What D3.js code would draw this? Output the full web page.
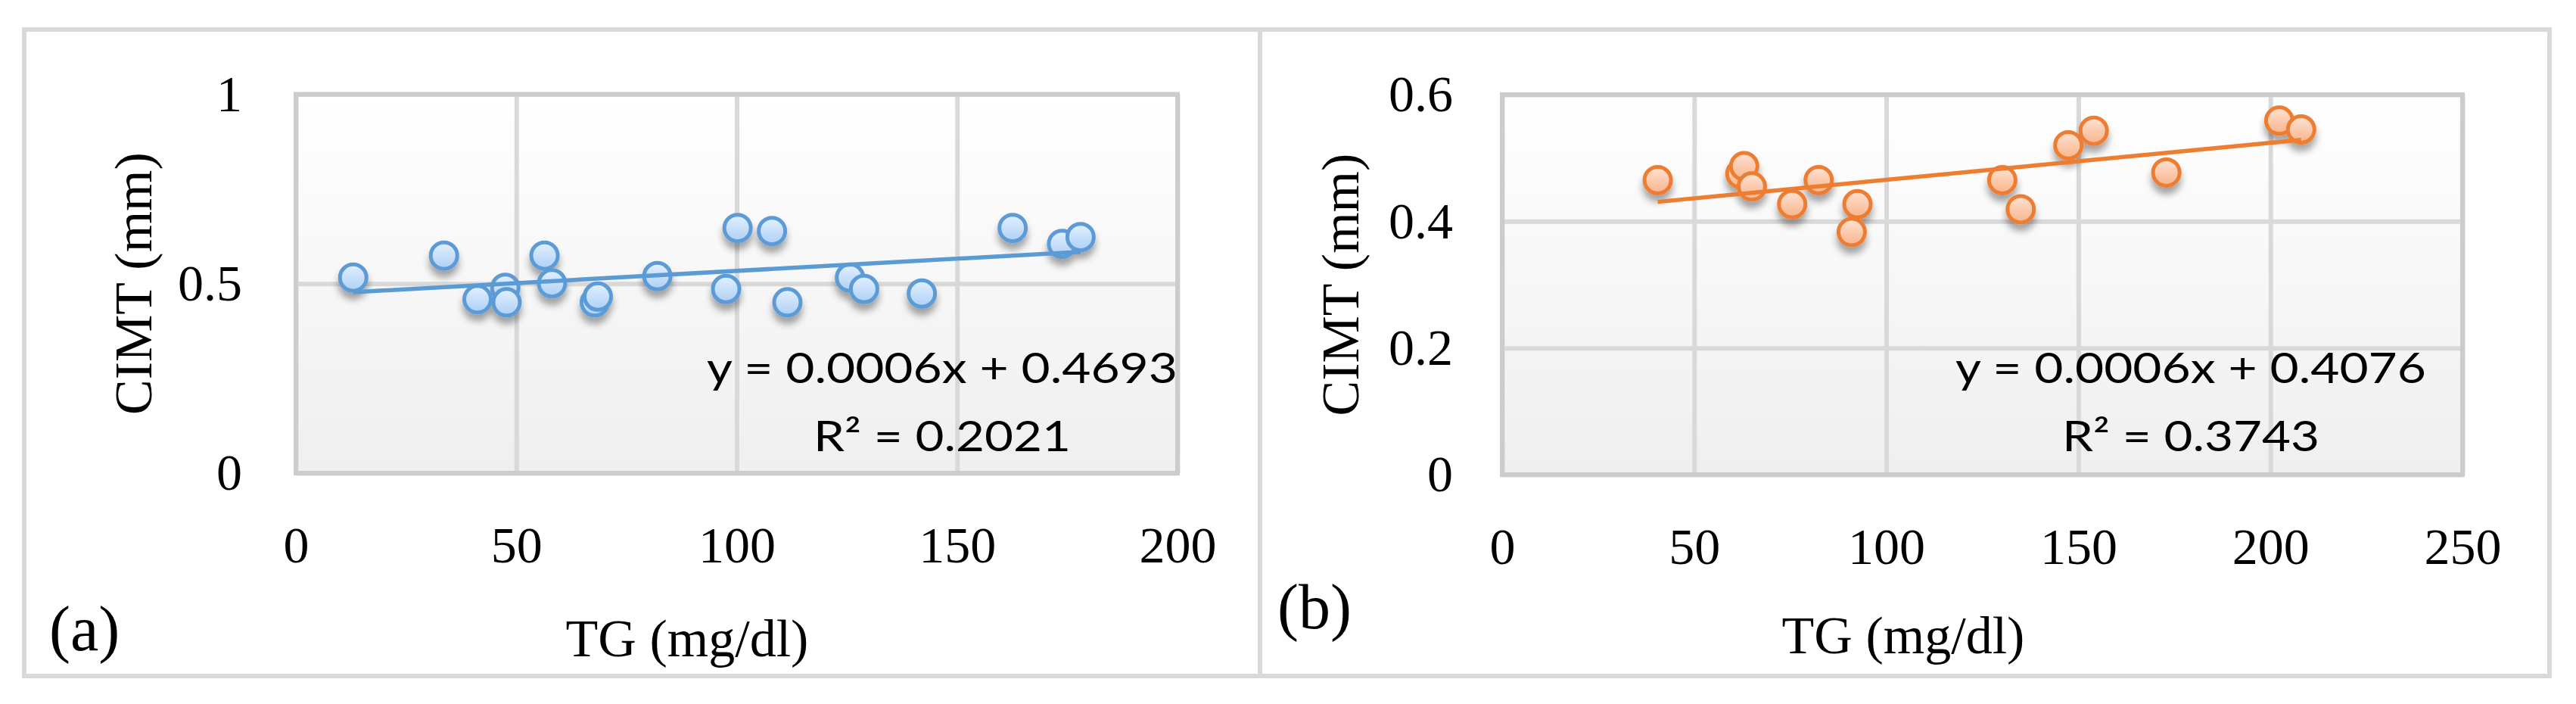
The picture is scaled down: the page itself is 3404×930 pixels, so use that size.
<!DOCTYPE html>
<html><head><meta charset="utf-8">
<script src="https://cdn.jsdelivr.net/npm/d3@7"></script>
<style>html,body{margin:0;padding:0;background:#fff;} svg{display:block}</style>
</head><body>
<svg id="chart" width="3404" height="930"></svg>
<script>
// ---- data ----
const tgA   = [13, 33.6, 41.2, 47.5, 47.8, 56.4, 58.1, 67.8, 68.5, 82, 97.6, 100.2, 108, 111.5, 125.7, 128.9, 142, 162.6, 173.8, 178];
const cimtA = [0.516, 0.574, 0.459, 0.489, 0.451, 0.574, 0.501, 0.451, 0.466, 0.52, 0.486, 0.647, 0.639, 0.451, 0.516, 0.486, 0.474, 0.647, 0.605, 0.623];
const tgB   = [40.5, 62, 63, 65, 75.5, 82.4, 91, 92.5, 130.2, 135, 147.4, 154, 172.9, 202.3, 208];
const cimtB = [0.465, 0.475, 0.487, 0.455, 0.427, 0.465, 0.383, 0.427, 0.465, 0.419, 0.520, 0.543, 0.477, 0.559, 0.545];
const xTicksA = [0, 50, 100, 150, 200];
const yTicksA = [0, 0.5, 1];
const xTicksB = [0, 50, 100, 150, 200, 250];
const yTicksB = [0, 0.2, 0.4, 0.6];
const yTickLabelsA = ["0", "0.5", "1"];
const yTickLabelsB = ["0", "0.2", "0.4", "0.6"];
const eqA = ["y = 0.0006x + 0.4693", "R² = 0.2021"];
const eqB = ["y = 0.0006x + 0.4076", "R² = 0.3743"];
const panelLabels = ["(a)", "(b)"];
const xTitle = "TG (mg/dl)";
const yTitle = "CIMT (mm)";

const svg = d3.select("#chart");
const defs = svg.append("defs");
const bg = defs.append("linearGradient").attr("id","bg").attr("x1",0).attr("y1",0).attr("x2",0).attr("y2",1);
bg.append("stop").attr("offset","0%").attr("stop-color","#ffffff");
bg.append("stop").attr("offset","100%").attr("stop-color","#efefef");
function grad(id, c1, c2){
  const g = defs.append("linearGradient").attr("id",id).attr("x1",0).attr("y1",0).attr("x2",0).attr("y2",1);
  g.append("stop").attr("offset","0%").attr("stop-color",c1);
  g.append("stop").attr("offset","100%").attr("stop-color",c2);
}
grad("gBlue","#e2f0ff","#aed0f5");
grad("gOrange","#ffe2d2","#f8b48c");
const f = defs.append("filter").attr("id","shadow").attr("x","-50%").attr("y","-50%").attr("width","200%").attr("height","220%");
f.append("feDropShadow").attr("dx",0).attr("dy",9).attr("stdDeviation",5).attr("flood-color","#000").attr("flood-opacity",0.35);

const SERIF = "'Liberation Serif','Times New Roman',serif";
const SANS = "Lato,'Open Sans',sans-serif";

// outer frame and divider
svg.append("rect").attr("x",32).attr("y",39).attr("width",3337).attr("height",854)
  .attr("fill","none").attr("stroke","#d9d9d9").attr("stroke-width",6);
svg.append("line").attr("x1",1665).attr("x2",1665).attr("y1",39).attr("y2",893)
  .attr("stroke","#d9d9d9").attr("stroke-width",6);

const panels = [
  {xs: tgA, ys: cimtA, xTicks: xTicksA, yTicks: yTicksA, yLabels: yTickLabelsA, eq: eqA, label: panelLabels[0],
   stroke: "#5b9bd5", fill: "url(#gBlue)",
   left: 391, right: 1556, top: 124.5, bottom: 625, yTickX: 320, xTickY: 743,
   yTitleX: 200, yTitleY: 374.5, xTitleX: 908, xTitleY: 867, labelX: 65, labelY: 859,
   eqX: 1245, eqY: [506, 596], eqW: [622, 340]},
  {xs: tgB, ys: cimtB, xTicks: xTicksB, yTicks: yTicksB, yLabels: yTickLabelsB, eq: eqB, label: panelLabels[1],
   stroke: "#ed7d31", fill: "url(#gOrange)",
   left: 1985, right: 3254, top: 125, bottom: 627, yTickX: 1920, xTickY: 745,
   yTitleX: 1795, yTitleY: 376, xTitleX: 2515, xTitleY: 863, labelX: 1688, labelY: 830,
   eqX: 2895, eqY: [506, 596], eqW: [622, 340]}
];

panels.forEach(p => {
  const x = d3.scaleLinear().domain([p.xTicks[0], p.xTicks[p.xTicks.length-1]]).range([p.left, p.right]);
  const y = d3.scaleLinear().domain([p.yTicks[0], p.yTicks[p.yTicks.length-1]]).range([p.bottom, p.top]);
  const g = svg.append("g");
  const w = p.right - p.left, h = p.bottom - p.top;

  g.append("rect").attr("x",p.left).attr("y",p.top).attr("width",w).attr("height",h).attr("fill","url(#bg)");

  // gridlines
  const gx = g.append("g").attr("transform",`translate(0,${p.bottom})`)
    .call(d3.axisBottom(x).tickValues(p.xTicks).tickSize(-h).tickFormat(""));
  gx.select(".domain").remove();
  gx.selectAll("line").attr("stroke","#d9d9d9").attr("stroke-width",6);
  const gy = g.append("g").attr("transform",`translate(${p.left},0)`)
    .call(d3.axisLeft(y).tickValues(p.yTicks).tickSize(-w).tickFormat(""));
  gy.select(".domain").remove();
  gy.selectAll("line").attr("stroke","#d9d9d9").attr("stroke-width",6);

  // plot border
  g.append("rect").attr("x",p.left).attr("y",p.top).attr("width",w).attr("height",h)
    .attr("fill","none").attr("stroke","#cccccc").attr("stroke-width",6);

  // tick labels
  const ax = g.append("g").attr("transform",`translate(0,${p.xTickY})`)
    .call(d3.axisBottom(x).tickValues(p.xTicks).tickSize(0).tickPadding(0).tickFormat(d3.format("d")));
  ax.select(".domain").remove();
  ax.attr("font-family",SERIF).attr("font-size",68);
  ax.selectAll("text").attr("y",0).attr("dy",0).attr("fill","#000");

  const ay = g.append("g").attr("transform",`translate(${p.yTickX},0)`)
    .call(d3.axisLeft(y).tickValues(p.yTicks).tickSize(0).tickPadding(0).tickFormat((d,i) => p.yLabels[i]));
  ay.select(".domain").remove();
  ay.attr("font-family",SERIF).attr("font-size",68);
  ay.selectAll("text").attr("x",0).attr("dy","0.32em").attr("fill","#000");

  // axis titles
  g.append("text").attr("x",p.xTitleX).attr("y",p.xTitleY).attr("text-anchor","middle")
    .attr("font-family",SERIF).attr("font-size",70).text(xTitle);
  g.append("text").attr("transform",`translate(${p.yTitleX},${p.yTitleY}) rotate(-90)`).attr("text-anchor","middle")
    .attr("font-family",SERIF).attr("font-size",70).text(yTitle);
  g.append("text").attr("x",p.labelX).attr("y",p.labelY)
    .attr("font-family",SERIF).attr("font-size",84).text(p.label);

  // markers
  const data = p.xs.map((v,i) => ({x: v, y: p.ys[i]}));
  g.append("g").attr("filter","url(#shadow)").selectAll("circle").data(data).join("circle")
    .attr("cx", d => x(d.x)).attr("cy", d => y(d.y)).attr("r",17.5)
    .attr("fill",p.fill).attr("stroke",p.stroke).attr("stroke-width",5);

  // linear trend line (least squares on the data)
  const mx = d3.mean(p.xs), my = d3.mean(p.ys);
  const slope = d3.sum(p.xs, (v,i) => (v-mx)*(p.ys[i]-my)) / d3.sum(p.xs, v => (v-mx)*(v-mx));
  const icpt = my - slope*mx;
  const ext = d3.extent(p.xs);
  const tl = ext.map(v => [x(v), y(icpt + slope*v)]);
  g.append("path").attr("d", d3.line()(tl)).attr("stroke",p.stroke).attr("stroke-width",5.5).attr("fill","none");

  // equation
  p.eq.forEach((t,i) => {
    g.append("text").attr("x",p.eqX).attr("y",p.eqY[i]).attr("text-anchor","middle")
      .attr("font-family",SANS).attr("font-size",56).attr("fill","#000")
      .attr("textLength",p.eqW[i]).attr("lengthAdjust","spacingAndGlyphs").text(t);
  });
});
</script>
</body></html>
